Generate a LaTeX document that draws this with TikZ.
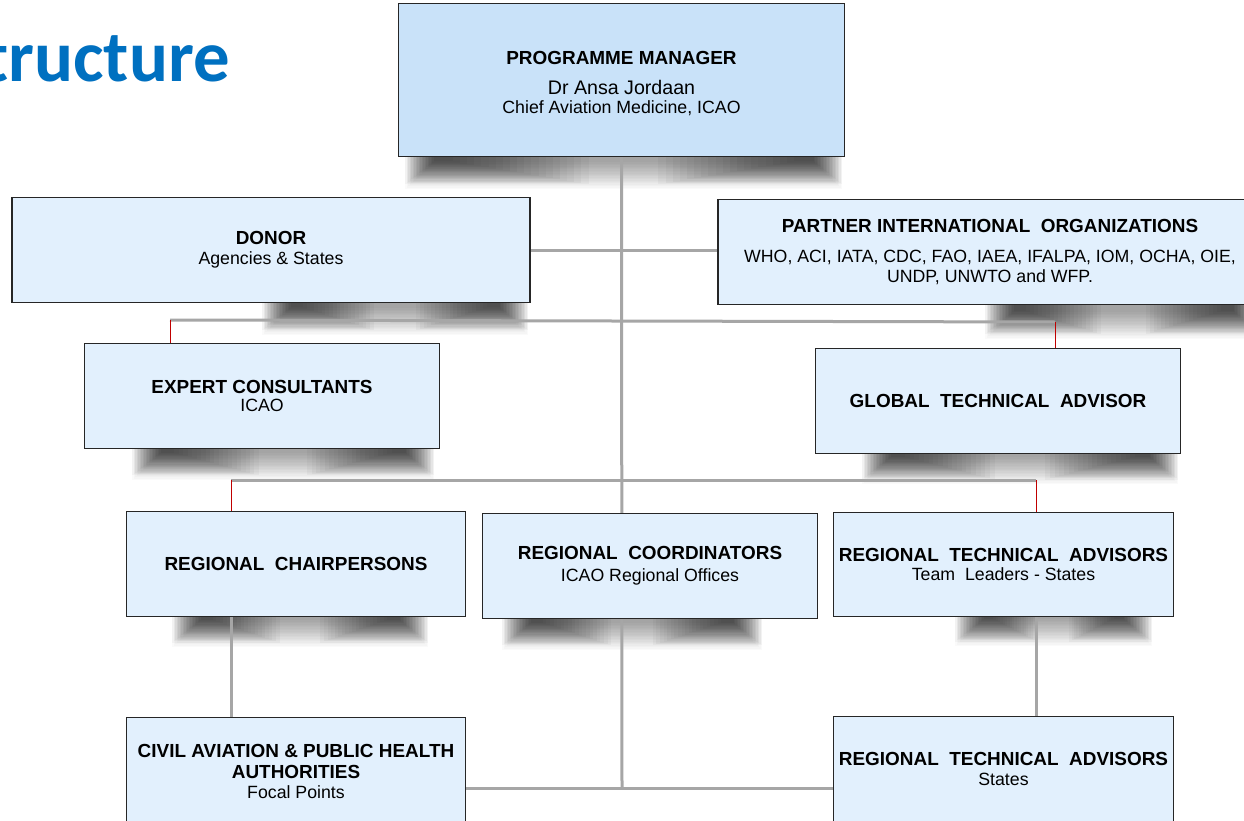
\documentclass[tikz,border=0pt]{standalone}
\usepackage{fontspec}
\setmainfont{Liberation Sans}
\newfontfamily\titlefont{Carlito}
\usetikzlibrary{calc}
\definecolor{pmfill}{HTML}{C9E2F9}
\definecolor{boxfill}{HTML}{E2F0FD}
\definecolor{connc}{HTML}{A6A6A6}
\definecolor{tickc}{HTML}{C00000}
\definecolor{titleblue}{HTML}{0070C0}
\newcommand\hd{\fontsize{19}{22}\selectfont\bfseries}
\newcommand\subt{\fontsize{17.8}{22}\selectfont\mdseries}
% soft "curl" shadow under a box: light band plus darker ends
\newcommand\boxshade[4]{%
  \foreach \k in {0,...,19}{%
    \fill[black,opacity=0.018] ({#1+1.5*\k},{#3-6}) rectangle ({#2-1.5*\k},{#3+#4-1.4*\k});
    \fill[black,opacity=0.03] ({#1+1.5*\k},{#3-6}) rectangle ({#1+0.42*(#2-#1)*(1-\k/21)+1.6*\k},{#3+0.85*#4-1.2*\k});
    \fill[black,opacity=0.03] ({#2-0.42*(#2-#1)*(1-\k/21)-1.6*\k},{#3-6}) rectangle ({#2-1.5*\k},{#3+0.85*#4-1.2*\k});
  }}
\pgfdeclarelayer{bglayer}
\pgfdeclarelayer{shadowlayer}
\pgfdeclarelayer{linelayer}
\pgfsetlayers{bglayer,shadowlayer,linelayer,main}
\tikzset{
  orgbox/.style={draw=black!85, line width=1.2bp, fill=boxfill, inner sep=0pt, outer sep=0pt, align=center, anchor=center, font=\hd},
  connline/.style={draw=connc, line width=3bp},
  redtick/.style={draw=tickc, line width=0.9bp},
}
\begin{document}
\begin{tikzpicture}[x=1bp,y=-1bp]
\useasboundingbox (0,0) rectangle (1244,821);
\begin{pgfonlayer}{bglayer}
\fill[white] (0,0) rectangle (1244,821);
\end{pgfonlayer}
\node[anchor=base east, text=titleblue, inner sep=0pt, font=\titlefont\bfseries\fontsize{73}{80}\selectfont] (title) at (230,82) {Structure};

\node[orgbox, fill=pmfill, minimum width=447, minimum height=154] (pm) at (621.5,80)
  {\rule{0pt}{20bp}PROGRAMME MANAGER\\[8bp]{\fontsize{19.7}{22}\selectfont\mdseries Dr Ansa Jordaan}\\[-2.5bp]{\subt Chief Aviation Medicine, ICAO}};
\node[orgbox, minimum width=520, minimum height=106] (donor) at (271,250)
  {DONOR\\[-2bp]{\subt Agencies \& States}};
\node[orgbox, minimum width=546, minimum height=106] (partner) at (990,252)
  {PARTNER INTERNATIONAL\ \ ORGANIZATIONS\\[9bp]{\subt WHO, ACI, IATA, CDC, FAO, IAEA, IFALPA, IOM, OCHA, OIE,}\\[-2bp]{\subt UNDP, UNWTO and WFP.}};
\node[orgbox, minimum width=356, minimum height=106] (expert) at (262,396)
  {EXPERT CONSULTANTS\\[-3bp]{\subt ICAO}};
\node[orgbox, minimum width=366, minimum height=106] (global) at (998,401)
  {GLOBAL\ \ TECHNICAL\ \ ADVISOR};
\node[orgbox, minimum width=340, minimum height=106] (rch) at (296,564)
  {REGIONAL\ \ CHAIRPERSONS};
\node[orgbox, minimum width=336, minimum height=106] (rco) at (650,566)
  {REGIONAL\ \ COORDINATORS\\{\subt ICAO Regional Offices}};
\node[orgbox, minimum width=341, minimum height=105] (rta) at (1003.5,564.5)
  {REGIONAL\ \ TECHNICAL\ \ ADVISORS\\[-2bp]{\subt Team\ \ Leaders - States}};
\node[orgbox, minimum width=340, minimum height=109] (civil) at (296,771.5)
  {CIVIL AVIATION \& PUBLIC HEALTH\\[-1bp]AUTHORITIES\\[-1bp]{\subt Focal Points}};
\node[orgbox, minimum width=341, minimum height=106] (rtas) at (1003.5,769)
  {REGIONAL\ \ TECHNICAL\ \ ADVISORS\\[-2bp]{\subt States}};

\coordinate (h1l) at (170,320);
\coordinate (h1r) at (1055,322);
\coordinate (h2l) at (231,480);
\coordinate (h2r) at (1036,480);
\coordinate (bot) at (622,788);

\begin{pgfonlayer}{shadowlayer}
\boxshade{405}{842}{157}{32}
\boxshade{262}{528}{303}{32}
\boxshade{985}{1262}{305}{34}
\boxshade{132}{434}{449}{31}
\boxshade{862}{1178}{454}{30}
\boxshade{172}{428}{617}{30}
\boxshade{502}{762}{619}{31}
\boxshade{955}{1152}{617}{29}
\end{pgfonlayer}

\begin{pgfonlayer}{linelayer}
\draw[connline] (pm.south) -- (bot);
\draw[connline] (donor.east) -- (donor.east -| partner.west);
\draw[connline] (h1l) -- (h1r);
\draw[connline] (h2l) -- (h2r);
\draw[redtick] (h1l) -- (h1l |- expert.north);
\draw[redtick] (h1r) -- (h1r |- global.north);
\draw[redtick] (h2l) -- (h2l |- rch.north);
\draw[redtick] (h2r) -- (h2r |- rta.north);
\draw[connline] (h2l |- rch.south) -- (h2l |- civil.north);
\draw[connline] (h2r |- rta.south) -- (h2r |- rtas.north);
\draw[connline] (bot -| civil.east) -- (bot -| rtas.west);
\end{pgfonlayer}
\end{tikzpicture}
\end{document}
